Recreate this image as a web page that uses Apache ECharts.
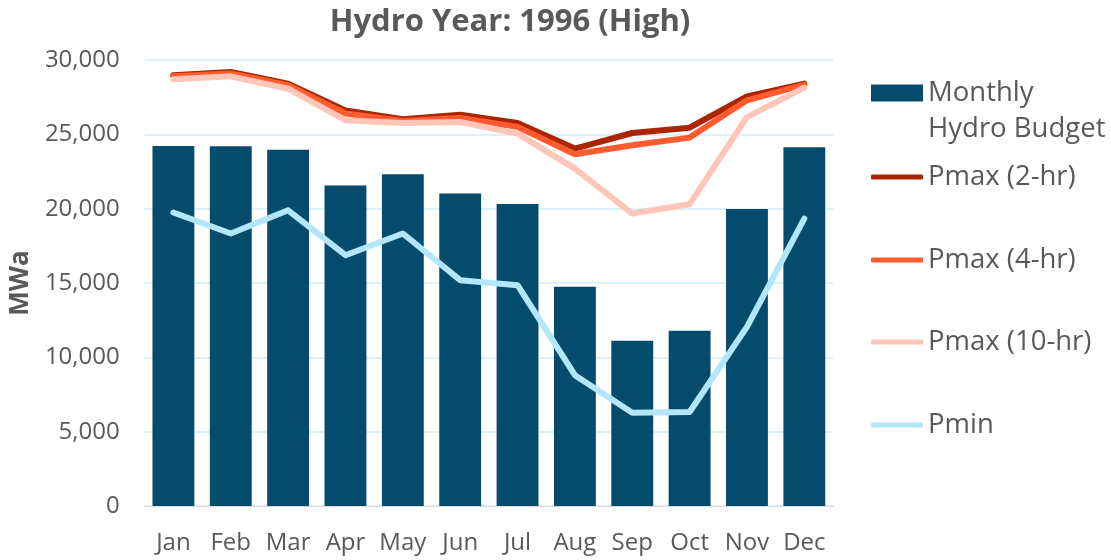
<!DOCTYPE html>
<html><head><meta charset="utf-8">
<script src="https://cdn.jsdelivr.net/npm/echarts@6/dist/echarts.min.js"></script>
<style>html,body{margin:0;padding:0;background:#fff}#c{width:1111px;height:560px}</style>
</head><body><div id="c"></div>
<script>
const months = ['Jan','Feb','Mar','Apr','May','Jun','Jul','Aug','Sep','Oct','Nov','Dec'];
const budget = [24210, 24200, 23970, 21550, 22310, 21020, 20320, 14740, 11110, 11780, 19980, 24130];
const pmax2 = [28970, 29190, 28410, 26610, 26010, 26320, 25760, 24040, 25090, 25450, 27550, 28410];
const pmax4 = [28900, 29100, 28300, 26400, 25900, 26100, 25500, 23660, 24260, 24780, 27290, 28340];
const pmax10 = [28700, 28900, 28070, 25940, 25760, 25830, 25050, 22690, 19670, 20300, 26160, 28140];
const pmin = [19740, 18330, 19890, 16870, 18330, 15190, 14850, 8800, 6270, 6320, 12050, 19330];

const FONT = 'Open Sans';
const GREY = '#595959';
const chart = echarts.init(document.getElementById('c'));
const lineSeries = (name, data, color) => ({
  name, type: 'line', data, symbol: 'none', smooth: false,
  lineStyle: { color, width: 6, cap: 'round', join: 'round' },
  itemStyle: { color },
  z: 3
});
const legendText = { fontFamily: FONT, fontSize: 27.5, color: GREY, lineHeight: 34 };
const mkLegend = (name, top, isLine) => ({
  orient: 'vertical', left: 866, top, itemWidth: 52, itemHeight: isLine ? 5 : 17,
  icon: isLine ? 'roundRect' : 'rect',
  textStyle: legendText, selectedMode: false,
  data: [name],
  formatter: n => n === 'Monthly Hydro Budget' ? 'Monthly' : n
});
chart.setOption({
  animation: false,
  textStyle: { fontFamily: FONT },
  title: {
    text: 'Hydro Year: 1996 (High)', left: 505, top: 2, textAlign: 'center',
    textStyle: { fontFamily: FONT, fontSize: 31, fontWeight: 'bold', color: GREY }
  },
  legend: [
    mkLegend('Monthly Hydro Budget', 71, false),
    mkLegend('Pmax (2-hr)', 155, true),
    mkLegend('Pmax (4-hr)', 238, true),
    mkLegend('Pmax (10-hr)', 320, true),
    mkLegend('Pmin', 403, true)
  ],
  graphic: [{
    type: 'text', left: 928, top: 112,
    style: { text: 'Hydro Budget', fontFamily: FONT, fontSize: 27.5, fill: GREY, lineHeight: 34 }
  }],
  grid: { left: 142, right: 278, top: 60, bottom: 54, containLabel: false },
  xAxis: {
    type: 'category', data: months,
    axisTick: { show: false },
    axisLine: { show: true, lineStyle: { color: '#D9D9D9', width: 1 } },
    axisLabel: { fontFamily: FONT, fontSize: 24, color: GREY, margin: 25, interval: 0 }
  },
  yAxis: {
    type: 'value', min: 0, max: 30000, interval: 5000,
    name: 'MWa', nameLocation: 'middle', nameGap: 90, nameRotate: 90,
    nameTextStyle: { fontFamily: FONT, fontSize: 26, fontWeight: 'bold', color: GREY },
    axisLine: { show: false }, axisTick: { show: false },
    splitLine: { lineStyle: { color: '#DDF1FA', width: 2 } },
    axisLabel: { fontFamily: FONT, fontSize: 24, color: GREY, margin: 25,
      formatter: v => v.toLocaleString('en-US') }
  },
  series: [
    { name: 'Monthly Hydro Budget', type: 'bar', data: budget, barCategoryGap: '27%',
      itemStyle: { color: '#054C6C' }, z: 2 },
    lineSeries('Pmax (2-hr)', pmax2, '#AB2500'),
    lineSeries('Pmax (4-hr)', pmax4, '#FF5A30'),
    lineSeries('Pmax (10-hr)', pmax10, '#FFC5B6'),
    lineSeries('Pmin', pmin, '#B3E6FA')
  ]
});
</script></body></html>
